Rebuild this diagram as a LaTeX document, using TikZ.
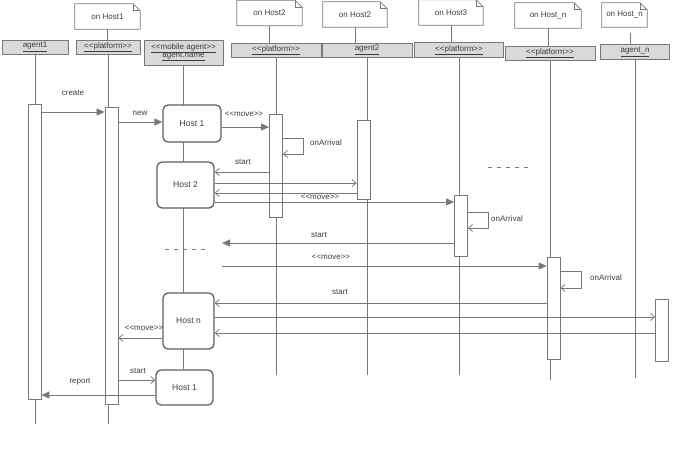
\documentclass[tikz,border=0pt]{standalone}
\usepackage{fontspec}
\setmainfont{Liberation Sans}
\usetikzlibrary{arrows.meta,positioning,calc}

\definecolor{linegray}{RGB}{120,120,120}
\definecolor{boxgray}{RGB}{217,217,217}
\definecolor{txtgray}{RGB}{60,60,60}
\newcommand{\stereo}[1]{<\kern0pt<#1>\kern0pt>}

\begin{document}
\begin{tikzpicture}[x=1pt, y=-1pt,
  font=\fontsize{8}{9}\selectfont, text=txtgray,
  head/.style={draw=linegray, fill=boxgray, minimum height=14pt, inner sep=1pt, align=center, line width=0.8pt},
  note/.style={minimum height=25pt, inner sep=1pt},
  notel/.style={draw=linegray, line width=0.8pt},
  life/.style={draw=linegray, line width=0.9pt},
  bar/.style={draw=linegray, fill=white, minimum width=13pt, inner sep=0pt, line width=0.8pt},
  hostbox/.style={draw=gray!75!black, fill=white, rounded corners=5pt, line width=1.3pt, inner sep=0pt, font=\fontsize{8.5}{9.5}\selectfont},
  call/.style={draw=linegray, line width=1pt, -{Triangle[length=8pt,width=7pt]}},
  reply/.style={draw=linegray, line width=0.8pt, -{Straight Barb[length=4pt,width=7pt]}},
  lbl/.style={inner sep=0pt}
]
  \useasboundingbox (0,0) rectangle (679,453);

  \node[note, minimum width=65pt] (n1) at (107.5,16.5) {on Host1};
  \node[note, minimum width=65pt] (n2) at (269.5,13) {on Host2};
  \node[note, minimum width=64pt] (n3) at (355,14.5) {on Host2};
  \node[note, minimum width=64pt] (n4) at (451,12.5) {on Host3};
  \node[note, minimum width=66pt] (n5) at (548,15.5) {on Host\_n};
  \node[note, minimum width=45pt, minimum height=24pt] (n6) at (624.5,15) {on Host\_n};
  \foreach \n in {n1,n2,n3,n4,n5,n6} {
    \draw[notel] (\n.south west) -- (\n.north west) -- ([xshift=-7pt]\n.north east) -- ([yshift=-7pt]\n.north east) -- (\n.south east) -- cycle;
    \draw[notel] ([xshift=-7pt]\n.north east) -- ([xshift=-7pt,yshift=-7pt]\n.north east) -- ([yshift=-7pt]\n.north east);
  }

  \node[head, minimum width=66pt] (agent1) at (35,47) {\underline{agent1}};
  \node[head, minimum width=64pt] (plat1) at (108,47.5) {\underline{\stereo{platform}}};
  \node[head, minimum width=79pt, minimum height=25pt] (mob) at (183.5,52.5) {\underline{\stereo{mobile agent}}\\[-1pt]\underline{agent.name}};
  \node[head, minimum width=90pt] (plat2) at (276,50) {\underline{\stereo{platform}}};
  \node[head, minimum width=90pt] (agent2) at (367,50) {\underline{agent2}};
  \node[head, minimum width=89pt, minimum height=15pt] (plat3) at (459,50) {\underline{\stereo{platform}}};
  \node[head, minimum width=90pt] (platn) at (550,53) {\underline{\stereo{platform}}};
  \node[head, minimum width=69pt, minimum height=15pt] (agentn) at (635,52) {\underline{agent\_n}};

  \draw[notel] (n1.south) -- (n1.south |- plat1.north);
  \draw[notel] (n2.south) -- (n2.south |- plat2.north);
  \draw[notel] (n3.south) -- (n3.south |- agent2.north);
  \draw[notel] (n4.south) -- (n4.south |- plat3.north);
  \draw[notel] (n5.south) -- (n5.south |- platn.north);
  \draw[notel] ([xshift=6pt,yshift=-6pt]n6.south) -- ([xshift=6pt]n6.south |- agentn.north);

  \node[hostbox, minimum width=57pt, minimum height=35pt] (h1b) at (184.5,387.5) {Host 1};

  \draw[life] (agent1) -- ++(0,377);
  \draw[life] (plat1) -- ++(0,376.5);
  \draw[life] (mob) -- (mob |- h1b.north);
  \draw[life] (plat2) -- ++(0,325);
  \draw[life] (agent2) -- ++(0,325);
  \draw[life] (plat3) -- ++(0,325);
  \draw[life] (platn) -- ++(0,327);
  \draw[life] (agentn) -- ++(0,326);

  \node[bar, minimum height=295pt] (b1) at (34.5,251.5) {};
  \node[bar, minimum height=297pt] (b2) at (111.5,255.5) {};
  \node[bar, minimum height=103pt] (b3) at (276,165.5) {};
  \node[bar, minimum height=79pt] (b4) at (363.5,159.5) {};
  \node[bar, minimum height=61pt] (b5) at (461,225.5) {};
  \node[bar, minimum height=102pt] (b6) at (553.5,308) {};
  \node[bar, minimum height=62pt] (b7) at (662,330) {};

  \node[hostbox, minimum width=58pt, minimum height=37pt] (h1) at (192,123.5) {Host 1};
  \node[hostbox, minimum width=57pt, minimum height=46pt] (h2) at (185.5,185) {Host 2};
  \node[hostbox, minimum width=51pt, minimum height=56pt] (hn) at (188.5,321) {Host n};

  \coordinate (gapa) at (222,243);
  \coordinate (gapb) at (222,266);

  \draw[call] (b1.east |- 0,112) -- (b2.west |- 0,112);
  \draw[call] (b2.east |- 0,122) -- (h1.west |- 0,122);
  \draw[call] (h1.east |- 0,127) -- (b3.west |- 0,127);
  \draw[reply] (b3.east |- 0,138) -- ++(20,0) -- ++(0,16) -- (b3.east |- 0,154);
  \draw[reply] (b3.west |- 0,172) -- (h2.east |- 0,172);
  \draw[reply] (h2.east |- 0,183) -- (b4.west |- 0,183);
  \draw[reply] (b4.west |- 0,193) -- (h2.east |- 0,193);
  \draw[call] (h2.east |- 0,202) -- (b5.west |- 0,202);
  \draw[reply] (b5.east |- 0,212) -- ++(20,0) -- ++(0,16) -- (b5.east |- 0,228);
  \draw[call] (b5.west |- gapa) -- (gapa);
  \draw[call] (gapb) -- (b6.west |- gapb);
  \draw[reply] (b6.east |- 0,271) -- ++(21,0) -- ++(0,17) -- (b6.east |- 0,288);
  \draw[reply] (b6.west |- 0,303) -- (hn.east |- 0,303);
  \draw[reply] (hn.east |- 0,317) -- (b7.west |- 0,317);
  \draw[reply] (b7.west |- 0,333) -- (hn.east |- 0,333);
  \draw[reply] (hn.west |- 0,338) -- (b2.east |- 0,338);
  \draw[reply] (b2.east |- 0,380) -- (h1b.west |- 0,380);
  \draw[call] (h1b.west |- 0,395) -- (b1.east |- 0,395);

  \node[lbl] (lcreate) at (73,93) {create};
  \node[lbl] (lnew) at (140,113) {new};
  \node[lbl] (lmove1) at (244,114) {\stereo{move}};
  \node[lbl] (larr1) at (326,143) {onArrival};
  \node[lbl] (lstart1) at (243,162) {start};
  \node[lbl] (lmove2) at (320,197) {\stereo{move}};
  \node[lbl] (larr2) at (507,219) {onArrival};
  \node[lbl] (lstart2) at (319,235) {start};
  \node[lbl] (lmove3) at (331,257) {\stereo{move}};
  \node[lbl] (larr3) at (606,278) {onArrival};
  \node[lbl] (lstart3) at (340,292) {start};
  \node[lbl] (lmove4) at (144,328) {\stereo{move}};
  \node[lbl] (lstart4) at (138,371) {start};
  \node[lbl] (lreport) at (80,382) {report};

  \draw[linegray, dashed, dash pattern=on 4pt off 5pt] (488,167) -- (532,167);
  \draw[linegray, dashed, dash pattern=on 4pt off 5pt] (165,249) -- (210,249);
\end{tikzpicture}
\end{document}
